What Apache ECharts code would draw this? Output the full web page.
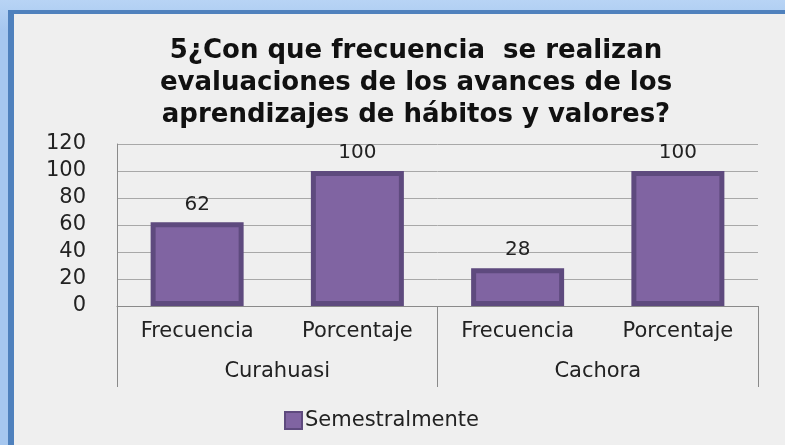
<!DOCTYPE html>
<html>
<head>
<meta charset="utf-8">
<script src="https://cdn.jsdelivr.net/npm/echarts@6/dist/echarts.min.js"></script>
<style>
  html, body { margin: 0; padding: 0; }
  body {
    width: 785px; height: 445px; position: relative; overflow: hidden;
    background: linear-gradient(#b8d4f5, #a6c7ef 30px, #a6c7ef);
  }
  .frame {
    position: absolute; left: 8px; top: 10px; right: -10px; bottom: -10px;
    background: #efefef;
    border-left: 6px solid #4f81bd;
    border-top: 4px solid #4f81bd;
  }
  #chart { position: absolute; left: 0; top: 0; width: 785px; height: 445px; }
</style>
</head>
<body>
<div class="frame"></div>
<div id="chart"></div>
<script>
// datos del grafico
const categorias = ['Frecuencia', 'Porcentaje', 'Frecuencia', 'Porcentaje'];
const grupos = ['Curahuasi', 'Cachora'];
const semestralmente = [62, 100, 28, 100];
const yTicks = { min: 0, max: 120, step: 20 };

const fuente = 'DejaVu Sans';
const chart = echarts.init(document.getElementById('chart'));

const option = {
  backgroundColor: 'transparent',
  animation: false,
  title: {
    text: '5¿Con que frecuencia  se realizan\nevaluaciones de los avances de los\naprendizajes de hábitos y valores?',
    left: 411,
    top: 30,
    textAlign: 'center',
    textStyle: {
      fontFamily: fuente,
      fontSize: 26,
      fontWeight: 'bold',
      color: '#111',
      lineHeight: 32
    }
  },
  legend: {
    left: 279,
    top: 405,
    icon: 'rect',
    itemWidth: 17,
    itemHeight: 17,
    itemGap: 4,
    textStyle: { fontFamily: fuente, fontSize: 21, color: '#222', padding: [0, 0, 0, -2] },
    data: ['Semestralmente']
  },
  grid: { left: 117, right: 27, top: 144, bottom: 139 },
  xAxis: [
    {
      type: 'category',
      data: categorias,
      axisLine: { lineStyle: { color: '#8a8a8a' } },
      axisTick: { show: false },
      axisLabel: { fontFamily: fuente, fontSize: 21, color: '#222', margin: 15, interval: 0 }
    },
    {
      type: 'category',
      position: 'bottom',
      data: grupos,
      axisLine: { show: false },
      axisTick: { show: true, length: 81, lineStyle: { color: '#8a8a8a' } },
      axisLabel: { fontFamily: fuente, fontSize: 21, color: '#222', margin: 55 }
    }
  ],
  yAxis: {
    type: 'value',
    min: yTicks.min,
    max: yTicks.max,
    interval: yTicks.step,
    axisLine: { show: true, lineStyle: { color: '#8a8a8a' } },
    axisTick: { show: false },
    splitLine: { lineStyle: { color: '#a8a8a8' } },
    axisLabel: { fontFamily: fuente, fontSize: 21, color: '#222', margin: 31 }
  },
  series: [
    {
      name: 'Semestralmente',
      type: 'bar',
      xAxisIndex: 0,
      data: semestralmente,
      barWidth: 93,
      itemStyle: { color: '#8064a2', borderColor: '#5e4a7e', borderWidth: 5 },
      label: {
        show: true,
        position: 'top',
        distance: 8,
        fontFamily: fuente,
        fontSize: 20,
        color: '#222'
      }
    }
  ]
};

chart.setOption(option);
</script>
</body>
</html>
